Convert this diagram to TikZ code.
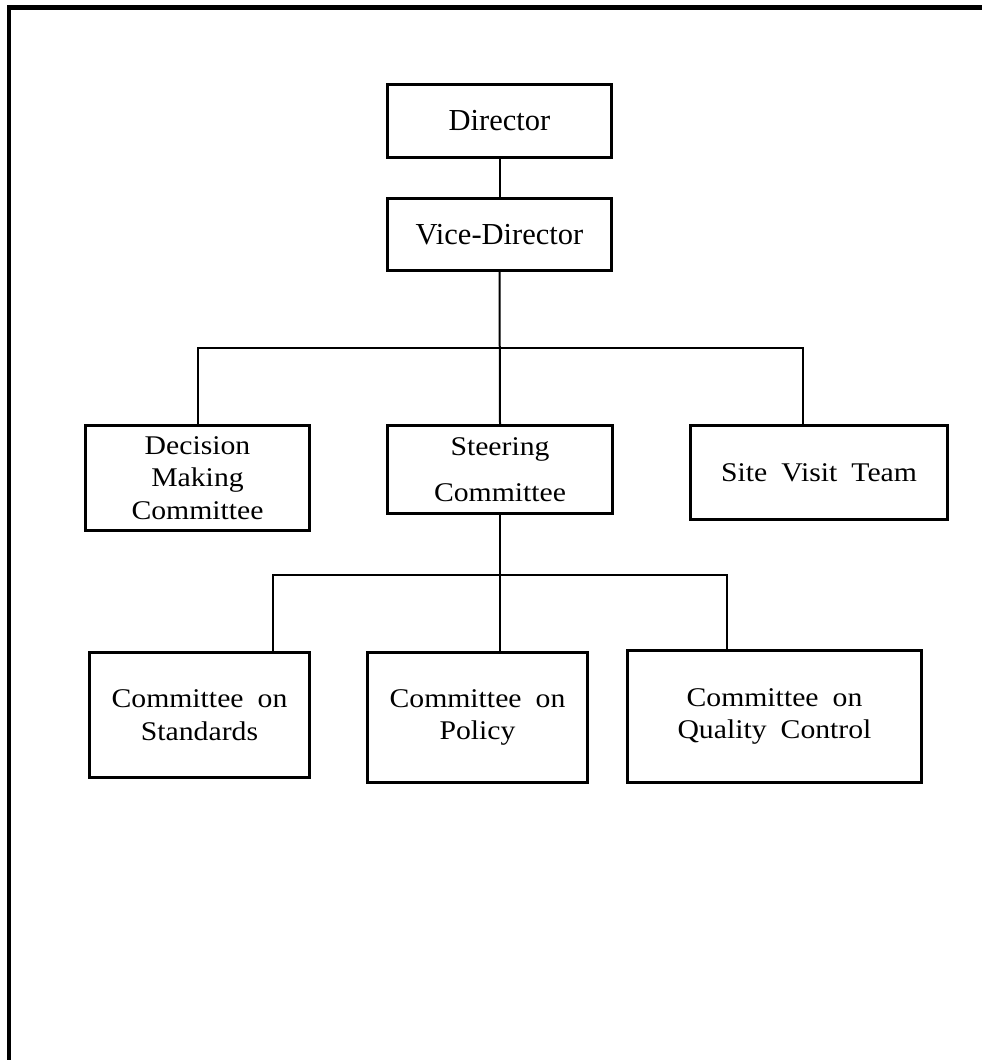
\documentclass[tikz,border=0pt]{standalone}
\usepackage{fontspec}
\setmainfont{Liberation Serif}
\newfontfamily\batfont[FakeStretch=1.1,WordSpace=1.9]{Liberation Serif}
\begin{document}
\begin{tikzpicture}[x=1pt,y=-1pt,
  orgbox/.style={draw, line width=2.6pt, inner sep=0pt, align=center},
  conn/.style={line width=2pt},
  topfont/.style={font=\fontsize{30.5}{36}\selectfont},
  lowfont/.style={font=\batfont\fontsize{27}{32.5}\selectfont}]
\useasboundingbox (0,0) rectangle (982,1060);
\clip (0,0) rectangle (982,1060);
\fill[white] (0,0) rectangle (982,1060);
% outer frame (clipped at right and bottom)
\draw[line width=4.5pt, line join=miter] (9,1080) -- (9,7.5) -- (1000,7.5);

\node[orgbox, topfont, minimum width=224pt, minimum height=73pt] (dir) at (499.5,121) {Director};
\node[orgbox, topfont, minimum width=224pt, minimum height=72pt] (vice) at (499.5,234.5) {Vice-Director};

\node[orgbox, lowfont, minimum width=224pt, minimum height=105pt] (dec) at (197.5,478) {Decision\\Making\\Committee};
\node[orgbox, lowfont, minimum width=225pt, minimum height=88pt] (steer) at (500,469.5) {Steering\\[13.5pt]Committee};
\node[orgbox, lowfont, minimum width=257pt, minimum height=94pt] (site) at (819,472.5) {Site Visit Team};

\node[orgbox, lowfont, minimum width=220pt, minimum height=125pt] (std) at (199.5,715) {Committee on\\Standards};
\node[orgbox, lowfont, minimum width=220pt, minimum height=130pt] (pol) at (477.5,717.5) {Committee on\\Policy};
\node[orgbox, lowfont, minimum width=294pt, minimum height=132pt] (qc) at (774.5,716.5) {Committee on\\Quality Control};

\coordinate (bus1) at (500,348);
\coordinate (bus2) at (500,575);

\draw[conn] (dir.south) -- (vice.south |- vice.north);
\draw[conn] (vice.south) -- (steer.north);
\draw[conn] (dec.north) |- (bus1) -| ([xshift=-16pt]site.north);

\draw[conn] (steer.south) -- (steer.south |- pol.north);
\draw[conn] ([xshift=73.5pt]std.north) |- (bus2) -| ([xshift=-47.5pt]qc.north);
\end{tikzpicture}
\end{document}
